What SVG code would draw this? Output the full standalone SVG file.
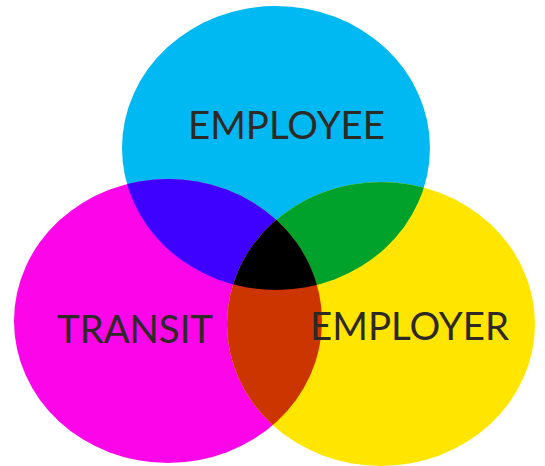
<svg xmlns="http://www.w3.org/2000/svg" width="545" height="466" viewBox="0 0 545 466">
<style>
.lbl{font-family:Lato,"Open Sans","Liberation Sans",sans-serif;font-size:39px;fill:#2d2a25}
</style>
<defs>
<ellipse id="eC" cx="276" cy="148" rx="154" ry="142"/>
<ellipse id="eM" cx="168" cy="321" rx="154" ry="142"/>
<ellipse id="eY" cx="381" cy="324" rx="154" ry="142"/>
<clipPath id="cC"><use href="#eC"/></clipPath>
<clipPath id="cM"><use href="#eM"/></clipPath>
<clipPath id="cY"><use href="#eY"/></clipPath>
</defs>
<rect width="545" height="466" fill="#ffffff"/>
<g id="employee">
<use href="#eC" fill="#00b9f2"/>
<text class="lbl" x="188" y="139" textLength="197" lengthAdjust="spacingAndGlyphs">EMPLOYEE</text>
</g>
<g id="transit">
<use href="#eM" fill="#fc05e8"/>
<use href="#eM" fill="#3e00ff" clip-path="url(#cC)"/>
<text class="lbl" x="57" y="343" textLength="156" lengthAdjust="spacingAndGlyphs">TRANSIT</text>
</g>
<g id="employer">
<use href="#eY" fill="#ffe500"/>
<g clip-path="url(#cY)">
<use href="#eC" fill="#00a22b"/>
<use href="#eM" fill="#cc3400"/>
<g clip-path="url(#cC)"><use href="#eM" fill="#000000"/></g>
</g>
<text class="lbl" x="310" y="340" textLength="199" lengthAdjust="spacingAndGlyphs">EMPLOYER</text>
</g>
<g id="connectors"/>
</svg>
